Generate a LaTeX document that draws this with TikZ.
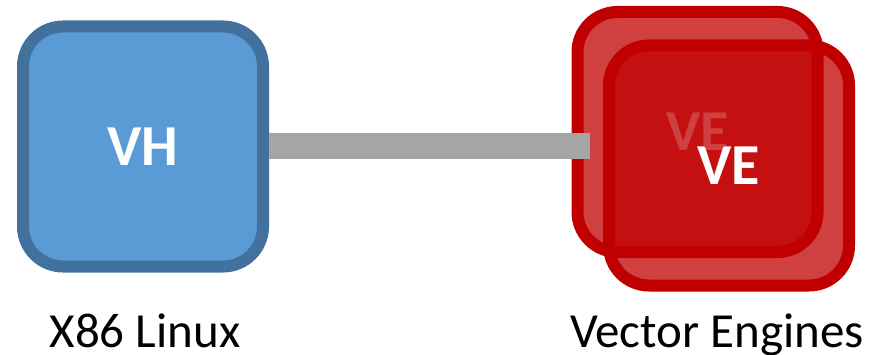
\documentclass[tikz,border=0pt]{standalone}
\usepackage{fontspec}
\setmainfont{Carlito}
\definecolor{vhfill}{HTML}{5B9BD5}
\definecolor{vhline}{HTML}{41719C}
\definecolor{vered}{HTML}{C00000}
\definecolor{linkgray}{HTML}{A5A5A5}
\begin{document}
\begin{tikzpicture}[x=1pt,y=-1pt,
  boxbase/.style={minimum width=240pt,minimum height=240pt,inner sep=0pt,
    line width=12pt,rounded corners=40pt,text=white,
    font=\fontsize{58}{58}\selectfont\bfseries},
  vhbox/.style={boxbase,draw=vhline,fill=vhfill},
  vebox/.style={boxbase,draw=vered,fill=vered,fill opacity=0.75,draw opacity=1,text opacity=1},
  link/.style={line width=26pt,draw=linkgray},
  caption/.style={font=\fontsize{49}{49}\selectfont,text=black,inner sep=0pt,anchor=base}]
\useasboundingbox (0,0) rectangle (890,355);
\node[vhbox] (vh) at (143,146.5) {VH};
\node[vebox] (veback) at (697.5,132) {VE};
\coordinate (linkend) at (590,146.5);
\draw[link] (vh.east) -- (linkend);
\node[vebox] (vefront) at (729,165.5) {VE};
\node[caption] (vhlabel) at (145,347) {X86 Linux};
\node[caption] (velabel) at (717,347) {Vector Engines};
\end{tikzpicture}
\end{document}
